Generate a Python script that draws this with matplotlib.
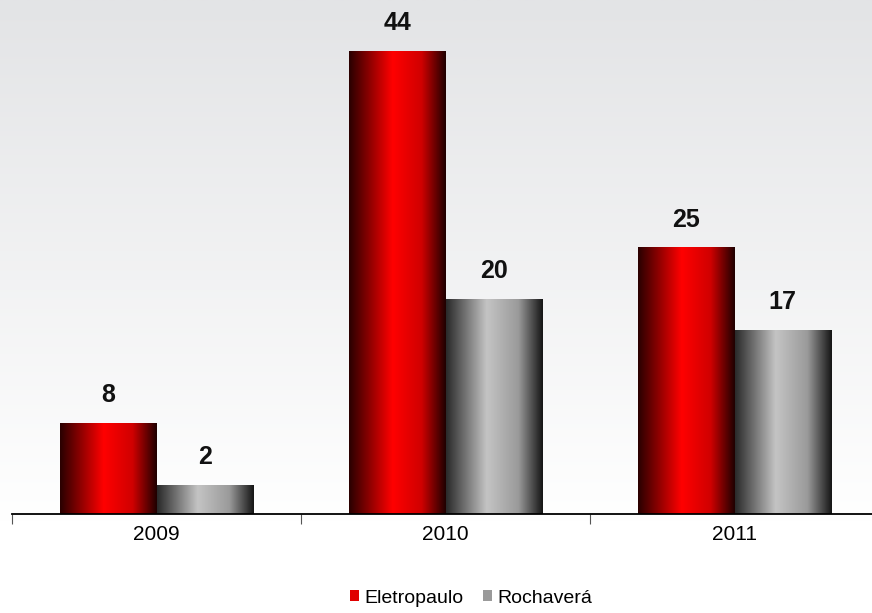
import numpy as np
import matplotlib
matplotlib.use("Agg")
import matplotlib.pyplot as plt
from matplotlib.colors import LinearSegmentedColormap
from matplotlib.patches import Patch

plt.rcParams['font.family'] = ['Liberation Sans', 'DejaVu Sans']

# data
years = ['2009', '2010', '2011']
eletropaulo = [8, 44, 25]
rochavera = [2, 20, 17]
series_names = ['Eletropaulo', 'Rochaverá']

base = -0.8
width = 0.333

red_cmap = LinearSegmentedColormap.from_list(
    'red_grad', [(0.0, '#2a0000'), (0.45, '#ff0000'), (0.75, '#d00000'), (1.0, '#200000')])
gray_cmap = LinearSegmentedColormap.from_list(
    'gray_grad', [(0.0, '#2a2a2a'), (0.42, '#c4c4c4'), (0.75, '#9a9a9a'), (1.0, '#161616')])

fig = plt.figure(figsize=(8.72, 6.13), dpi=100)

# background: light gray at top fading to white
bg = fig.add_axes([0, 0, 1, 1], zorder=-10)
bg.axis('off')
grad = np.linspace(0, 1, 256).reshape(-1, 1)
bg_cmap = LinearSegmentedColormap.from_list(
    'bg', [(0.0, '#ffffff'), (0.15, '#ffffff'), (1.0, '#e3e4e6')])
bg.imshow(grad, cmap=bg_cmap, aspect='auto', extent=[0, 1, 0, 1], origin='lower')
bg.set_xlim(0, 1)
bg.set_ylim(0, 1)

ax = fig.add_axes([12 / 872, 99 / 613, 867 / 872, 514 / 613])
ax.patch.set_alpha(0)

x = np.arange(len(years))
h_grad = np.linspace(0, 1, 200).reshape(1, -1)

for vals, offset, cmap in [(eletropaulo, -width / 2, red_cmap), (rochavera, width / 2, gray_cmap)]:
    vals = np.array(vals, dtype=float)
    bars = ax.bar(x + offset, vals - base, width, bottom=base, color='none', edgecolor='none')
    for bar, v in zip(bars, vals):
        x0, w = bar.get_x(), bar.get_width()
        y0, h = bar.get_y(), bar.get_height()
        ax.imshow(h_grad, cmap=cmap, aspect='auto', extent=[x0, x0 + w, y0, y0 + h],
                  zorder=2, interpolation='bicubic')
        ax.annotate(str(int(v)), (x0 + w / 2, y0 + h), xytext=(0, 11.5),
                    textcoords='offset points', ha='center', va='bottom',
                    fontsize=18, fontweight='bold', color='#111111')

ax.set_xlim(-0.5, 2.5)
ax.set_ylim(base, 48.96)

for side in ['top', 'right', 'left']:
    ax.spines[side].set_visible(False)
ax.spines['bottom'].set_linewidth(1.3)
ax.spines['bottom'].set_zorder(5)
ax.set_yticks([])
ax.set_xticks(x)
ax.set_xticklabels(years, fontsize=15)
ax.tick_params(axis='x', which='major', length=0, pad=8)
ax.set_xticks([-0.5, 0.5, 1.5, 2.5], minor=True)
ax.tick_params(axis='x', which='minor', length=7, width=0.8, color='#555555')

handles = [Patch(facecolor='#e00000', edgecolor='none'),
           Patch(facecolor='#9a9a9a', edgecolor='none')]
fig.legend(handles, series_names, loc='center', bbox_to_anchor=(0.54, 0.024), ncol=2,
           frameon=False, fontsize=14, handlelength=0.5, handleheight=0.5,
           handletextpad=0.25, columnspacing=1.0)

fig.savefig('out.png', dpi=100)
